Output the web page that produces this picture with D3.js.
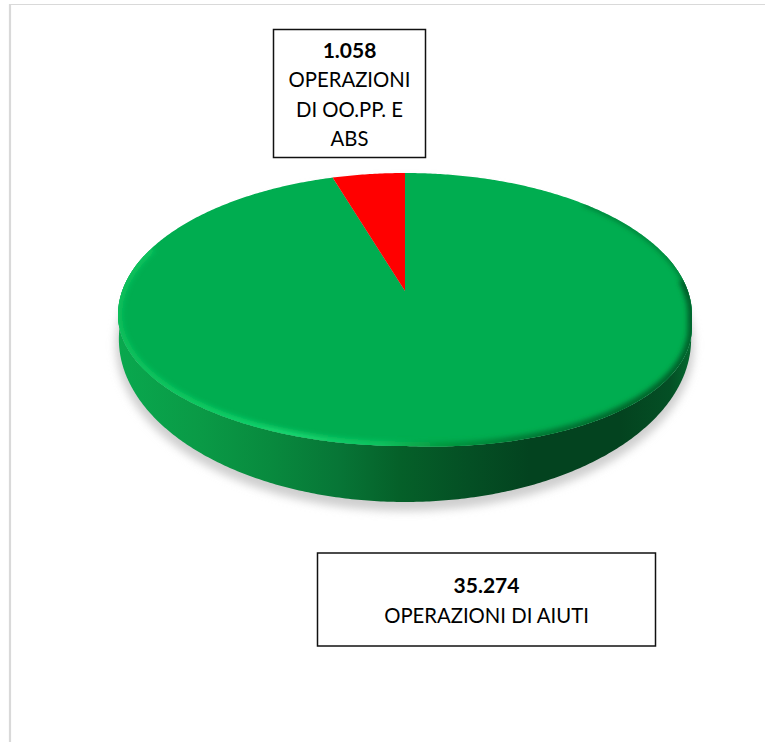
<!DOCTYPE html>
<html>
<head>
<meta charset="utf-8">
<script src="https://cdn.jsdelivr.net/npm/d3@7"></script>
<style>
    html, body { margin: 0; padding: 0; background: #fff; }
    svg { display: block; }
    text { font-family: Lato, "Open Sans", sans-serif; fill: #000; text-anchor: middle; }
</style>
</head>
<body>
<script>
// slice sizes (the wedge drawn is wider than the printed counts would give)
var SLICE_NAMES = ['aiuti', 'oopp'];
var SLICE_SHARES = [95.4, 4.6];
var SLICE_COLORS = ['#00AD50', '#FF0000'];

var LABEL_COUNTS = ['35.274', '1.058'];
var LABEL_AIUTI = ['OPERAZIONI DI AIUTI'];
var LABEL_OOPP = ['OPERAZIONI', 'DI OO.PP. E', 'ABS'];

var WIDTH = 765;
var HEIGHT = 742;

var svg = d3.select('body').append('svg')
    .attr('width', WIDTH)
    .attr('height', HEIGHT);

var defs = svg.append('defs');

// perspective of the tilted disc: the pie centre sits above the middle of the outline
var CX = 405, APEX_Y = 291, HALF_W = 287;
var REF_TOP = 173, REF_BOTTOM = 443;
var REF_MID = (REF_TOP + REF_BOTTOM) / 2, REF_RY = (REF_BOTTOM - REF_TOP) / 2;
var persp = (2 * APEX_Y - REF_TOP - REF_BOTTOM) / (REF_BOTTOM - REF_TOP);
var ampY = APEX_Y - REF_TOP + REF_TOP * persp;
var ampX = HALF_W * Math.sqrt(1 - persp * persp);

// outline of the top face is not a true ellipse: back and front halves differ
function topPoint(theta) {
    var u = Math.sin(theta), v = -Math.cos(theta);
    var w = 1 + persp * v;
    var x = CX + ampX * u / w;
    var n = ((APEX_Y + ampY * v) / w - REF_MID) / REF_RY;
    var y = 315 + n * (n < 0 ? 142 : 131);
    if (n > 0 && x > CX) y += 12 * (x - CX) / HALF_W;
    return [x, y];
}

function basePoint(theta) {
    var u = Math.sin(theta), v = -Math.cos(theta);
    var w = 1 + persp * v;
    var n = ((APEX_Y + ampY * v) / w - REF_MID) / REF_RY;
    return [CX + 0.997 * ampX * u / w, 339 + n * 163];
}

function samples(fn, a0, a1) {
    var n = Math.max(2, Math.ceil(Math.abs(a1 - a0) / 0.01));
    return d3.range(n + 1).map(function (i) {
        return fn(a0 + (a1 - a0) * i / n);
    });
}

var line = d3.line();
var TAU = Math.PI * 2;

var pie = d3.pie().sort(null)
    .startAngle(0)
    .endAngle(TAU);
var color = d3.scaleOrdinal().domain(SLICE_NAMES).range(SLICE_COLORS);
var slices = pie(SLICE_SHARES);

// filters
defs.append('filter').attr('id', 'shadowBlur')
    .attr('x', '-10%').attr('y', '-10%').attr('width', '120%').attr('height', '120%')
    .append('feGaussianBlur').attr('stdDeviation', 4);
defs.append('filter').attr('id', 'rimBlur')
    .attr('x', '-10%').attr('y', '-10%').attr('width', '120%').attr('height', '120%')
    .append('feGaussianBlur').attr('stdDeviation', 2.5);

function hGradient(id, stops) {
    var g = defs.append('linearGradient').attr('id', id)
        .attr('gradientUnits', 'userSpaceOnUse')
        .attr('x1', 118).attr('x2', 692).attr('y1', 0).attr('y2', 0);
    g.selectAll('stop').data(stops).enter().append('stop')
        .attr('offset', function (d) { return (d[0] - 118) / 574; })
        .attr('stop-color', function (d) { return d[1]; });
}

hGradient('wallFill', [
    [118, '#09a84e'], [200, '#0a9a46'], [270, '#088a3e'], [340, '#077536'],
    [400, '#056029'], [470, '#044f24'], [530, '#03431f'], [620, '#03431f'],
    [670, '#044f25'], [692, '#056a30']
]);
hGradient('rimStroke', [
    [118, '#07c05c'], [200, '#0ccb62'], [290, '#14d670'], [380, '#0ec45f'],
    [440, '#05993f'], [520, '#027a35'], [620, '#02682c'], [692, '#02602a']
]);

// frame lines of the sheet
svg.append('path')
    .attr('d', line([[10, 742], [10, 4]]))
    .attr('stroke', '#d9d9d9')
    .attr('stroke-width', 2.2);
svg.append('path')
    .attr('d', line([[9, 4.5], [765, 4.5]]))
    .attr('stroke', '#d9d9d9')
    .attr('stroke-width', 1.2);

// soft shadow on the floor
svg.append('path')
    .attr('d', line(samples(basePoint, 0, TAU)) + 'Z')
    .attr('transform', 'translate(0,6)')
    .attr('fill', '#cfcfcf')
    .attr('stroke', '#cfcfcf')
    .attr('stroke-width', 6)
    .attr('filter', 'url(#shadowBlur)');

// side wall
var wall = samples(topPoint, Math.PI * 0.4, Math.PI * 1.6)
    .concat(samples(basePoint, Math.PI * 1.6, Math.PI * 0.4));
svg.append('path')
    .attr('d', line(wall) + 'Z')
    .attr('fill', 'url(#wallFill)');

// top face, one path per slice
svg.append('g').selectAll('path')
    .data(slices)
    .enter()
    .append('path')
    .attr('class', function (d, i) { return 'slice ' + SLICE_NAMES[i]; })
    .attr('d', function (d) {
        return line([[CX, APEX_Y]].concat(samples(topPoint, d.startAngle, d.endAngle))) + 'Z';
    })
    .attr('fill', function (d, i) { return color(SLICE_NAMES[i]); });

// bevel along the front rim of the top face, thin where it runs round the back right
defs.append('clipPath').attr('id', 'topClip')
    .append('path').attr('d', line(samples(topPoint, 0, TAU)) + 'Z');
var rim = svg.append('g').attr('clip-path', 'url(#topClip)');
rim.append('path')
    .attr('d', line(samples(topPoint, Math.PI * 0.24, Math.PI * 0.5)))
    .attr('fill', 'none')
    .attr('stroke', '#02682c')
    .attr('stroke-opacity', 0.75)
    .attr('stroke-width', 4)
    .attr('filter', 'url(#rimBlur)');
rim.append('path')
    .attr('d', line(samples(topPoint, Math.PI * 0.46, Math.PI * 1.62)))
    .attr('fill', 'none')
    .attr('stroke', 'url(#rimStroke)')
    .attr('stroke-width', 9)
    .attr('filter', 'url(#rimBlur)');

// label boxes
function labelBox(x, y, w, h, count, rows, countY, rowY, rowStep) {
    var g = svg.append('g');
    g.append('rect')
        .attr('x', x).attr('y', y)
        .attr('width', w).attr('height', h)
        .attr('fill', '#fff')
        .attr('stroke', '#111')
        .attr('stroke-width', 1.5);
    g.append('text')
        .attr('x', x + w / 2)
        .attr('y', countY)
        .attr('font-size', 21)
        .attr('font-weight', 700)
        .text(count);
    g.selectAll('text.row')
        .data(rows)
        .enter()
        .append('text')
        .attr('class', 'row')
        .attr('x', x + w / 2)
        .attr('y', function (d, i) { return rowY + i * rowStep; })
        .attr('font-size', 20.3)
        .text(function (d) { return d; });
}

labelBox(273.5, 29.5, 152, 128, LABEL_COUNTS[1], LABEL_OOPP, 58, 87, 29.5);
labelBox(317.5, 553, 338, 93, LABEL_COUNTS[0], LABEL_AIUTI, 593, 623, 0);
</script>
</body>
</html>
